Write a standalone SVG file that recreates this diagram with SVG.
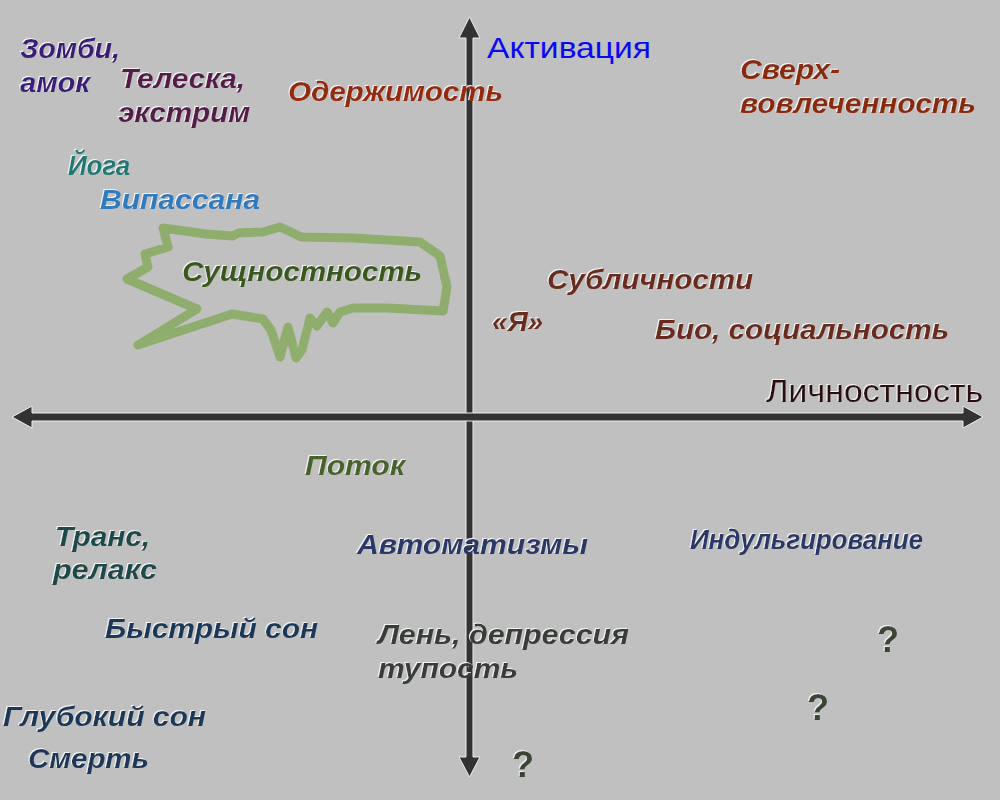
<svg xmlns="http://www.w3.org/2000/svg" width="1000" height="800" viewBox="0 0 1000 800">
<defs>
<filter id="emb" x="-5%" y="-20%" width="110%" height="140%">
<feOffset in="SourceAlpha" dx="-1" dy="-1" result="o"/>
<feFlood flood-color="#f4f4f4"/>
<feComposite in2="o" operator="in" result="w"/>
<feMerge><feMergeNode in="w"/><feMergeNode in="SourceGraphic"/></feMerge>
</filter>
</defs>
<style>
.t{font-family:"Liberation Sans",Arial,sans-serif;font-weight:bold;font-style:italic;font-size:28px;filter:url(#emb)}
.n{font-family:"Liberation Sans",Arial,sans-serif;font-weight:normal;font-style:normal}
.q{font-family:"Liberation Sans",Arial,sans-serif;font-weight:bold;font-size:36px;fill:#3a4536;filter:url(#emb)}
.ax{fill:#333333;stroke:#eeeeee;stroke-width:1}
</style>
<rect width="1000" height="800" fill="#c0c0c0"/>
<g id="connectors">
<polygon class="ax" points="466,38 459,38 469.5,17 480,38 473,38 473,757 480,757 469.5,777 459,757 466,757"/>
<polygon class="ax" points="32,413 32,406 12,417 32,428 32,421 963,421 963,428 983,417 963,406 963,413"/>
</g>
<g id="essence-shape">
<path d="M163,228 L206,234 L233,236 L238,233 L263,232 L280,227 L291,232 L301,237 L353,238 L420,242 L440,256 L447,287 L443,311 L387,308 L353,308 L340,312 L333,323 L327,312 L317,326 L310,318 L302,350 L296,358 L288,327 L280,357 L271,330 L263,319 L232,314 L138,345 L197,309 L127,279 L148,267 L145,254 L168,247 Z" fill="none" stroke="#8fae6e" stroke-width="9" stroke-linejoin="round"/>
</g>
<g id="zombie"><text class="t" fill="#3a1e78"><tspan x="20" y="58" textLength="100" lengthAdjust="spacingAndGlyphs">Зомби,</tspan><tspan x="20" y="92" textLength="70" lengthAdjust="spacingAndGlyphs">амок</tspan></text></g>
<g id="teleska"><text class="t" fill="#561a48"><tspan x="120" y="88" textLength="125" lengthAdjust="spacingAndGlyphs">Телеска,</tspan><tspan x="118" y="122" textLength="132" lengthAdjust="spacingAndGlyphs">экстрим</tspan></text></g>
<g id="oderzh"><text class="t" fill="#962a0c" x="288" y="101" textLength="215" lengthAdjust="spacingAndGlyphs">Одержимость</text></g>
<g id="activation"><text class="n" fill="#0a0af0" font-size="29" x="487" y="58" textLength="164" lengthAdjust="spacingAndGlyphs">Активация</text></g>
<g id="sverh"><text class="t" fill="#8a2a0c"><tspan x="740" y="79" textLength="100" lengthAdjust="spacingAndGlyphs">Сверх-</tspan><tspan x="740" y="113" textLength="236" lengthAdjust="spacingAndGlyphs">вовлеченность</tspan></text></g>
<g id="yoga"><text class="t" fill="#1e7a76" font-size="22" x="68" y="175" textLength="62" lengthAdjust="spacingAndGlyphs">Йога</text></g>
<g id="vipassana"><text class="t" fill="#2f7bbd" x="100" y="209" textLength="160" lengthAdjust="spacingAndGlyphs">Випассана</text></g>
<g id="essence"><text class="t" fill="#38581a" font-size="26" x="182" y="281" textLength="240" lengthAdjust="spacingAndGlyphs">Сущностность</text></g>
<g id="subpers"><text class="t" fill="#6a2c1c" x="547" y="289" textLength="206" lengthAdjust="spacingAndGlyphs">Субличности</text></g>
<g id="ya"><text class="t" fill="#6a2c1c" font-size="24" x="492" y="331" textLength="51" lengthAdjust="spacingAndGlyphs">«Я»</text></g>
<g id="bio"><text class="t" fill="#6a2c1c" x="655" y="339" textLength="294" lengthAdjust="spacingAndGlyphs">Био, социальность</text></g>
<g id="personality"><text class="n" fill="#2a0c0c" font-size="31" x="766" y="402" textLength="217" lengthAdjust="spacingAndGlyphs" filter="url(#emb)">Личностность</text></g>
<g id="flow"><text class="t" fill="#46642a" x="305" y="475" textLength="100" lengthAdjust="spacingAndGlyphs">Поток</text></g>
<g id="trance"><text class="t" fill="#1e4848"><tspan x="55" y="546" textLength="95" lengthAdjust="spacingAndGlyphs">Транс,</tspan><tspan x="53" y="579" textLength="104" lengthAdjust="spacingAndGlyphs">релакс</tspan></text></g>
<g id="automatisms"><text class="t" fill="#2a3868" x="357" y="554" textLength="231" lengthAdjust="spacingAndGlyphs">Автоматизмы</text></g>
<g id="indulg"><text class="t" fill="#2a3868" font-size="23" x="690" y="549" textLength="233" lengthAdjust="spacingAndGlyphs">Индульгирование</text></g>
<g id="rem"><text class="t" fill="#1e3858" x="105" y="638" textLength="213" lengthAdjust="spacingAndGlyphs">Быстрый сон</text></g>
<g id="laziness"><text class="t" fill="#383e38"><tspan x="378" y="644" textLength="251" lengthAdjust="spacingAndGlyphs">Лень, депрессия</tspan><tspan x="378" y="678" textLength="140" lengthAdjust="spacingAndGlyphs">тупость</tspan></text></g>
<g id="deepsleep"><text class="t" fill="#1e3858" x="3" y="726" textLength="203" lengthAdjust="spacingAndGlyphs">Глубокий сон</text></g>
<g id="death"><text class="t" fill="#1e3858" x="28" y="768" textLength="121" lengthAdjust="spacingAndGlyphs">Смерть</text></g>
<g id="q1"><text class="q" x="877" y="652">?</text></g>
<g id="q2"><text class="q" x="807" y="720">?</text></g>
<g id="q3"><text class="q" x="512" y="777">?</text></g>
</svg>
